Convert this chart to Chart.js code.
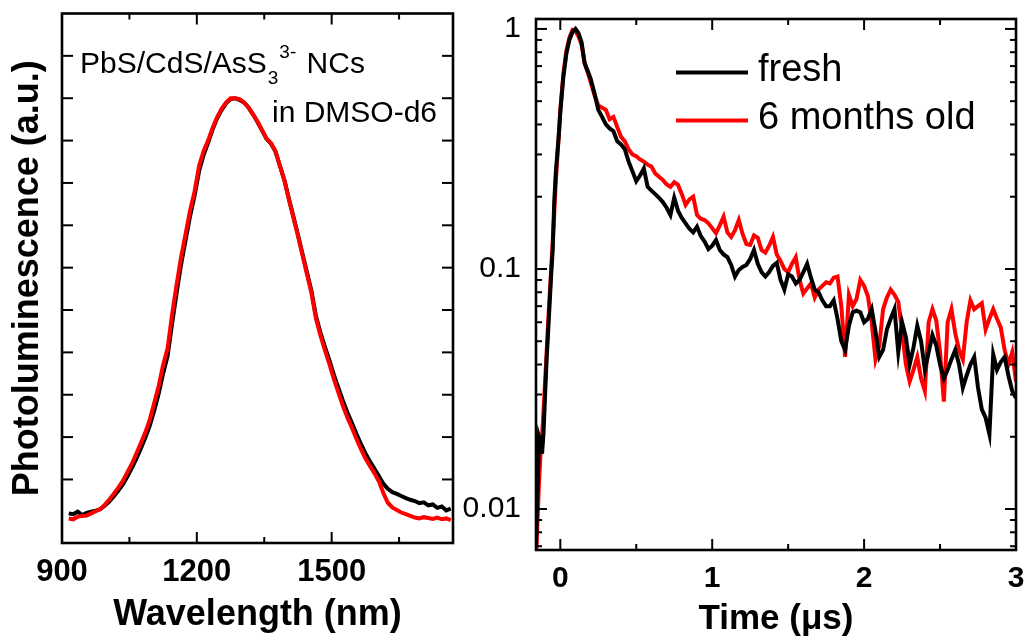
<!DOCTYPE html>
<html lang="en">
<head>
<meta charset="UTF-8" />
<title>PbS/CdS/AsS3 NCs - PL and decay</title>
<script src="https://cdn.jsdelivr.net/npm/chart.js@4.4.1/dist/chart.umd.min.js"></script>
<style>
  html, body { margin: 0; padding: 0; background: #fff; overflow: hidden; }
  body { width: 1024px; height: 636px; position: relative; }
  canvas { position: absolute; top: 0; }
  #plChart { left: 0; }
  #decayChart { left: 430px; }
</style>
</head>
<body>
<canvas id="plChart" width="470" height="636"></canvas>
<canvas id="decayChart" width="614" height="636"></canvas>
<script>
// left panel: PL spectrum
var wavelength = [915, 925, 935, 945, 955, 965, 975, 985, 995, 1005, 1015, 1025, 1035, 1045, 1055, 1065, 1075, 1085, 1095, 1105,
  1115, 1125, 1135, 1145, 1155, 1165, 1175, 1185, 1195, 1205, 1215, 1225, 1235, 1245, 1255, 1265, 1275, 1285, 1295, 1305,
  1315, 1325, 1335, 1345, 1355, 1365, 1375, 1385, 1395, 1405, 1415, 1425, 1435, 1445, 1455, 1465, 1475, 1485, 1495, 1505,
  1515, 1525, 1535, 1545, 1555, 1565, 1575, 1585, 1595, 1605, 1615, 1625, 1635, 1645, 1655, 1665, 1675, 1685, 1695, 1705,
  1715, 1725, 1735, 1745, 1755, 1765];
var plOld = [0.008, 0.006, 0.012, 0.014, 0.015, 0.020, 0.025, 0.030, 0.040, 0.052, 0.066, 0.080, 0.096, 0.116, 0.136, 0.160, 0.185, 0.210, 0.240, 0.280,
  0.320, 0.370, 0.410, 0.490, 0.560, 0.625, 0.680, 0.735, 0.780, 0.840, 0.875, 0.900, 0.930, 0.955, 0.975, 0.990, 1.000, 1.000, 0.998, 0.990,
  0.978, 0.962, 0.945, 0.925, 0.905, 0.894, 0.875, 0.840, 0.805, 0.760, 0.718, 0.675, 0.630, 0.585, 0.540, 0.480, 0.440, 0.405, 0.372, 0.337,
  0.305, 0.274, 0.246, 0.222, 0.196, 0.172, 0.150, 0.132, 0.115, 0.096, 0.068, 0.045, 0.034, 0.028, 0.022, 0.018, 0.014, 0.010, 0.008, 0.011,
  0.009, 0.007, 0.010, 0.006, 0.008, 0.004];
var plFresh = [0.020, 0.018, 0.024, 0.016, 0.021, 0.024, 0.026, 0.030, 0.038, 0.048, 0.060, 0.073, 0.088, 0.106, 0.126, 0.148, 0.172, 0.198, 0.226, 0.262,
  0.302, 0.350, 0.392, 0.468, 0.540, 0.608, 0.665, 0.722, 0.770, 0.828, 0.866, 0.895, 0.926, 0.952, 0.972, 0.988, 0.998, 1.000, 0.996, 0.990,
  0.978, 0.962, 0.944, 0.924, 0.904, 0.893, 0.874, 0.840, 0.806, 0.762, 0.720, 0.678, 0.633, 0.589, 0.545, 0.486, 0.447, 0.413, 0.381, 0.347,
  0.316, 0.286, 0.258, 0.234, 0.208, 0.184, 0.162, 0.143, 0.126, 0.108, 0.090, 0.078, 0.070, 0.066, 0.061, 0.056, 0.052, 0.049, 0.044, 0.046,
  0.039, 0.041, 0.033, 0.036, 0.027, 0.031];
var plXLabels = [900, 1200, 1500];
var plXMinor = [1050, 1350, 1650];
var plYTicks = [0.1, 0.2, 0.3, 0.4, 0.5, 0.6, 0.7, 0.8, 0.9, 1.0, 1.1];

// right panel: PL decay
var timeUs = [-0.16, -0.15, -0.14, -0.13, -0.12, -0.11, -0.10, -0.09, -0.08, -0.07, -0.06, -0.05, -0.04, -0.03, -0.02, -0.01,
  0.00, 0.02, 0.04, 0.06, 0.08, 0.10, 0.12, 0.14, 0.16, 0.18, 0.20, 0.225, 0.25, 0.275, 0.30, 0.325, 0.35, 0.375, 0.40, 0.425,
  0.45, 0.475, 0.50, 0.525, 0.55, 0.575, 0.60, 0.625, 0.65, 0.675, 0.70, 0.725, 0.75, 0.775, 0.80, 0.825, 0.85, 0.875, 0.90, 0.925,
  0.95, 0.975, 1.00, 1.025, 1.05, 1.075, 1.10, 1.125, 1.15, 1.175, 1.20, 1.225, 1.25, 1.275, 1.30, 1.325, 1.35, 1.375, 1.40, 1.425,
  1.45, 1.475, 1.50, 1.525, 1.55, 1.575, 1.60, 1.625, 1.65, 1.675, 1.70, 1.725, 1.75, 1.775, 1.80, 1.825, 1.85, 1.875, 1.90, 1.925,
  1.95, 1.975, 2.00, 2.025, 2.05, 2.075, 2.10, 2.125, 2.15, 2.175, 2.20, 2.225, 2.25, 2.275, 2.30, 2.325, 2.35, 2.375, 2.40, 2.425,
  2.45, 2.475, 2.50, 2.525, 2.55, 2.575, 2.60, 2.625, 2.65, 2.675, 2.70, 2.725, 2.75, 2.775, 2.80, 2.825, 2.85, 2.875, 2.90, 2.925,
  2.95, 2.975, 3.00];
var decayFresh = [0.007, 0.012, 0.020, 0.019, 0.017, 0.021, 0.030, 0.042, 0.055, 0.072, 0.095, 0.120, 0.190, 0.250, 0.300, 0.360,
  0.450, 0.630, 0.790, 0.900, 0.970, 1.000, 0.960, 0.880, 0.720, 0.670, 0.620, 0.540, 0.460, 0.430, 0.400, 0.385, 0.375, 0.340, 0.330, 0.315,
  0.280, 0.255, 0.232, 0.245, 0.262, 0.220, 0.212, 0.205, 0.198, 0.190, 0.180, 0.168, 0.198, 0.175, 0.163, 0.155, 0.147, 0.142, 0.150, 0.137,
  0.130, 0.121, 0.125, 0.132, 0.120, 0.115, 0.112, 0.104, 0.093, 0.099, 0.102, 0.104, 0.110, 0.120, 0.105, 0.097, 0.093, 0.097, 0.103, 0.106,
  0.090, 0.082, 0.095, 0.093, 0.087, 0.090, 0.097, 0.105, 0.092, 0.082, 0.080, 0.074, 0.070, 0.070, 0.074, 0.062, 0.050, 0.046, 0.058, 0.066,
  0.067, 0.066, 0.060, 0.062, 0.068, 0.055, 0.043, 0.046, 0.056, 0.062, 0.068, 0.045, 0.060, 0.052, 0.040, 0.047, 0.058, 0.050, 0.038, 0.045,
  0.053, 0.048, 0.040, 0.035, 0.038, 0.042, 0.046, 0.040, 0.032, 0.036, 0.040, 0.043, 0.032, 0.026, 0.024, 0.0205, 0.044, 0.038, 0.041, 0.043,
  0.036, 0.031, 0.029];
var decayOld = [0.006, 0.009, 0.013, 0.017, 0.020, 0.026, 0.034, 0.045, 0.060, 0.078, 0.100, 0.130, 0.170, 0.230, 0.290, 0.360,
  0.460, 0.650, 0.810, 0.920, 0.990, 0.980, 0.930, 0.860, 0.720, 0.660, 0.600, 0.530, 0.480, 0.470, 0.460, 0.420, 0.430, 0.390, 0.355, 0.340,
  0.315, 0.300, 0.295, 0.286, 0.280, 0.272, 0.267, 0.250, 0.242, 0.235, 0.225, 0.220, 0.230, 0.224, 0.205, 0.185, 0.195, 0.200, 0.168, 0.162,
  0.160, 0.155, 0.148, 0.141, 0.152, 0.165, 0.142, 0.136, 0.145, 0.160, 0.140, 0.127, 0.126, 0.138, 0.135, 0.120, 0.117, 0.125, 0.136, 0.115,
  0.108, 0.100, 0.097, 0.105, 0.112, 0.090, 0.079, 0.083, 0.087, 0.076, 0.082, 0.085, 0.088, 0.087, 0.092, 0.093, 0.070, 0.043, 0.078, 0.070,
  0.075, 0.090, 0.085, 0.077, 0.060, 0.042, 0.048, 0.068, 0.076, 0.082, 0.078, 0.073, 0.055, 0.040, 0.034, 0.038, 0.043, 0.035, 0.031, 0.060,
  0.068, 0.061, 0.045, 0.028, 0.060, 0.068, 0.054, 0.046, 0.042, 0.060, 0.074, 0.068, 0.070, 0.072, 0.056, 0.062, 0.068, 0.062, 0.057, 0.046,
  0.040, 0.045, 0.034];
var timeLabels = [0, 1, 2, 3];
var timeMinor = [0.5, 1.5, 2.5];
var decayLabels = [0.01, 0.1, 1];
var legendNames = ["fresh", "6 months old"];

var FONT = "'Liberation Sans', Arial, sans-serif";

function pts(xs, ys) {
  return xs.map(function (x, i) { return { x: x, y: ys[i] }; });
}

// keep the plot box fixed: no extra room for the end labels
function noLabelPad(s) {
  s.paddingTop = 0; s.paddingBottom = 0; s.paddingLeft = 0; s.paddingRight = 0;
}

// box around the plot + inward ticks on all four sides
function boxTicks(o) {
  return {
    id: "boxTicks",
    afterDraw: function (chart) {
      var ctx = chart.ctx, a = chart.chartArea;
      var xs = chart.scales.x, ys = chart.scales.y;
      function seg(x1, y1, x2, y2) { ctx.beginPath(); ctx.moveTo(x1, y1); ctx.lineTo(x2, y2); ctx.stroke(); }
      ctx.save();
      ctx.strokeStyle = "#000";
      ctx.lineWidth = 2;
      o.xMajor.forEach(function (v) {
        var p = xs.getPixelForValue(v);
        seg(p, a.bottom, p, a.bottom - o.major); seg(p, a.top, p, a.top + o.major);
      });
      o.xMinor.forEach(function (v) {
        var p = xs.getPixelForValue(v);
        seg(p, a.bottom, p, a.bottom - o.minor); seg(p, a.top, p, a.top + o.minor);
      });
      o.yMajor.forEach(function (v) {
        var p = ys.getPixelForValue(v);
        seg(a.left, p, a.left + o.major, p); seg(a.right, p, a.right - o.major, p);
      });
      o.yMinor.forEach(function (v) {
        var p = ys.getPixelForValue(v);
        seg(a.left, p, a.left + o.minor, p); seg(a.right, p, a.right - o.minor, p);
      });
      ctx.lineWidth = 2.6;
      ctx.strokeRect(a.left, a.top, a.right - a.left, a.bottom - a.top);
      ctx.restore();
    }
  };
}

var plNote = {
  id: "plNote",
  afterDraw: function (chart) {
    var ctx = chart.ctx;
    ctx.save();
    ctx.fillStyle = "#000";
    ctx.textBaseline = "alphabetic";
    ctx.font = "30px " + FONT;
    var x = 80;
    ctx.fillText("PbS/CdS/AsS", x, 73);
    x += ctx.measureText("PbS/CdS/AsS").width;
    ctx.font = "19px " + FONT;
    ctx.fillText("3", x + 1, 84);
    x += ctx.measureText("3").width + 2;
    ctx.fillText("3-", x, 58);
    x += ctx.measureText("3-").width;
    ctx.font = "30px " + FONT;
    ctx.fillText(" NCs", x + 2, 73);
    ctx.fillText("in DMSO-d6", 272, 122);
    ctx.restore();
  }
};

var decayLegend = {
  id: "decayLegend",
  afterDraw: function (chart) {
    var ctx = chart.ctx;
    var colors = ["#000000", "#ff0000"];
    var rows = [72.5, 120.5];
    ctx.save();
    ctx.font = "38px " + FONT;
    ctx.textBaseline = "middle";
    ctx.fillStyle = "#000";
    legendNames.forEach(function (name, i) {
      ctx.strokeStyle = colors[i];
      ctx.lineWidth = 4;
      ctx.beginPath();
      ctx.moveTo(246, rows[i]);
      ctx.lineTo(318, rows[i]);
      ctx.stroke();
      ctx.fillText(name, 328, rows[i] - 2);
    });
    ctx.restore();
  }
};

new Chart(document.getElementById("plChart"), {
  type: "line",
  data: {
    datasets: [
      { data: pts(wavelength, plOld), borderColor: "#ff0000", borderWidth: 4, pointRadius: 0 },
      { data: pts(wavelength, plFresh), borderColor: "#000000", borderWidth: 4, pointRadius: 0 }
    ]
  },
  options: {
    responsive: false,
    animation: false,
    parsing: false,
    layout: { padding: { top: 13.5, right: 17, bottom: 0, left: 0 } },
    plugins: { legend: { display: false }, tooltip: { enabled: false } },
    scales: {
      x: {
        type: "linear",
        min: 900,
        max: 1770,
        grid: { display: false },
        border: { display: false },
        afterBuildTicks: function (s) { s.ticks = plXLabels.map(function (v) { return { value: v }; }); },
        afterFit: function (s) { s.height = 93; noLabelPad(s); },
        ticks: {
          padding: 3,
          color: "#000",
          font: { family: FONT, size: 31, weight: "bold" },
          callback: function (v) { return String(v); }
        },
        title: {
          display: true,
          text: "Wavelength (nm)",
          color: "#000",
          font: { family: FONT, size: 36, weight: "bold" },
          padding: { top: 0, bottom: -1 }
        }
      },
      y: {
        type: "linear",
        min: -0.05,
        max: 1.2,
        grid: { display: false },
        border: { display: false },
        afterBuildTicks: function (s) { s.ticks = plYTicks.map(function (v) { return { value: v }; }); },
        afterFit: function (s) { s.width = 62; noLabelPad(s); },
        ticks: { display: false },
        title: {
          display: true,
          text: "Photoluminescence (a.u.)",
          color: "#000",
          font: { family: FONT, size: 36, weight: "bold" },
          padding: { top: 6, bottom: 0 }
        }
      }
    }
  },
  plugins: [boxTicks({ xMajor: plXLabels, xMinor: plXMinor, yMajor: plYTicks, yMinor: [], major: 11, minor: 6 }), plNote]
});

var logMinor = [];
[0.001, 0.01, 0.1].forEach(function (d) {
  for (var m = 2; m <= 9; m++) {
    var v = m * d;
    if (v > 0.00675 && v < 1.1) logMinor.push(v);
  }
});

new Chart(document.getElementById("decayChart"), {
  type: "line",
  data: {
    datasets: [
      { label: legendNames[0], data: pts(timeUs, decayFresh), borderColor: "#000000", borderWidth: 4, pointRadius: 0 },
      { label: legendNames[1], data: pts(timeUs, decayOld), borderColor: "#ff0000", borderWidth: 4, pointRadius: 0 }
    ]
  },
  options: {
    responsive: false,
    animation: false,
    parsing: false,
    layout: { padding: { top: 19, right: 28, bottom: 0, left: 0 } },
    plugins: { legend: { display: false }, tooltip: { enabled: false } },
    scales: {
      x: {
        type: "linear",
        min: -0.16,
        max: 3,
        grid: { display: false },
        border: { display: false },
        afterBuildTicks: function (s) { s.ticks = timeLabels.map(function (v) { return { value: v }; }); },
        afterFit: function (s) { s.height = 86; noLabelPad(s); },
        ticks: {
          padding: 3,
          color: "#000",
          font: { family: FONT, size: 30, weight: "bold" },
          callback: function (v) { return String(v); }
        },
        title: {
          display: true,
          text: "Time (\u03bcs)",
          color: "#000",
          font: { family: FONT, size: 35, weight: "bold" },
          padding: { top: 0, bottom: -4 }
        }
      },
      y: {
        type: "logarithmic",
        min: 0.00675,
        max: 1.1,
        grid: { display: false },
        border: { display: false },
        afterBuildTicks: function (s) { s.ticks = decayLabels.map(function (v) { return { value: v }; }); },
        afterFit: function (s) { s.width = 106; noLabelPad(s); },
        ticks: {
          padding: 7,
          color: "#000",
          font: { family: FONT, size: 30 },
          callback: function (v) { return String(v); }
        }
      }
    }
  },
  plugins: [boxTicks({ xMajor: timeLabels, xMinor: timeMinor, yMajor: decayLabels, yMinor: logMinor, major: 11, minor: 6 }), decayLegend]
});
</script>
</body>
</html>
